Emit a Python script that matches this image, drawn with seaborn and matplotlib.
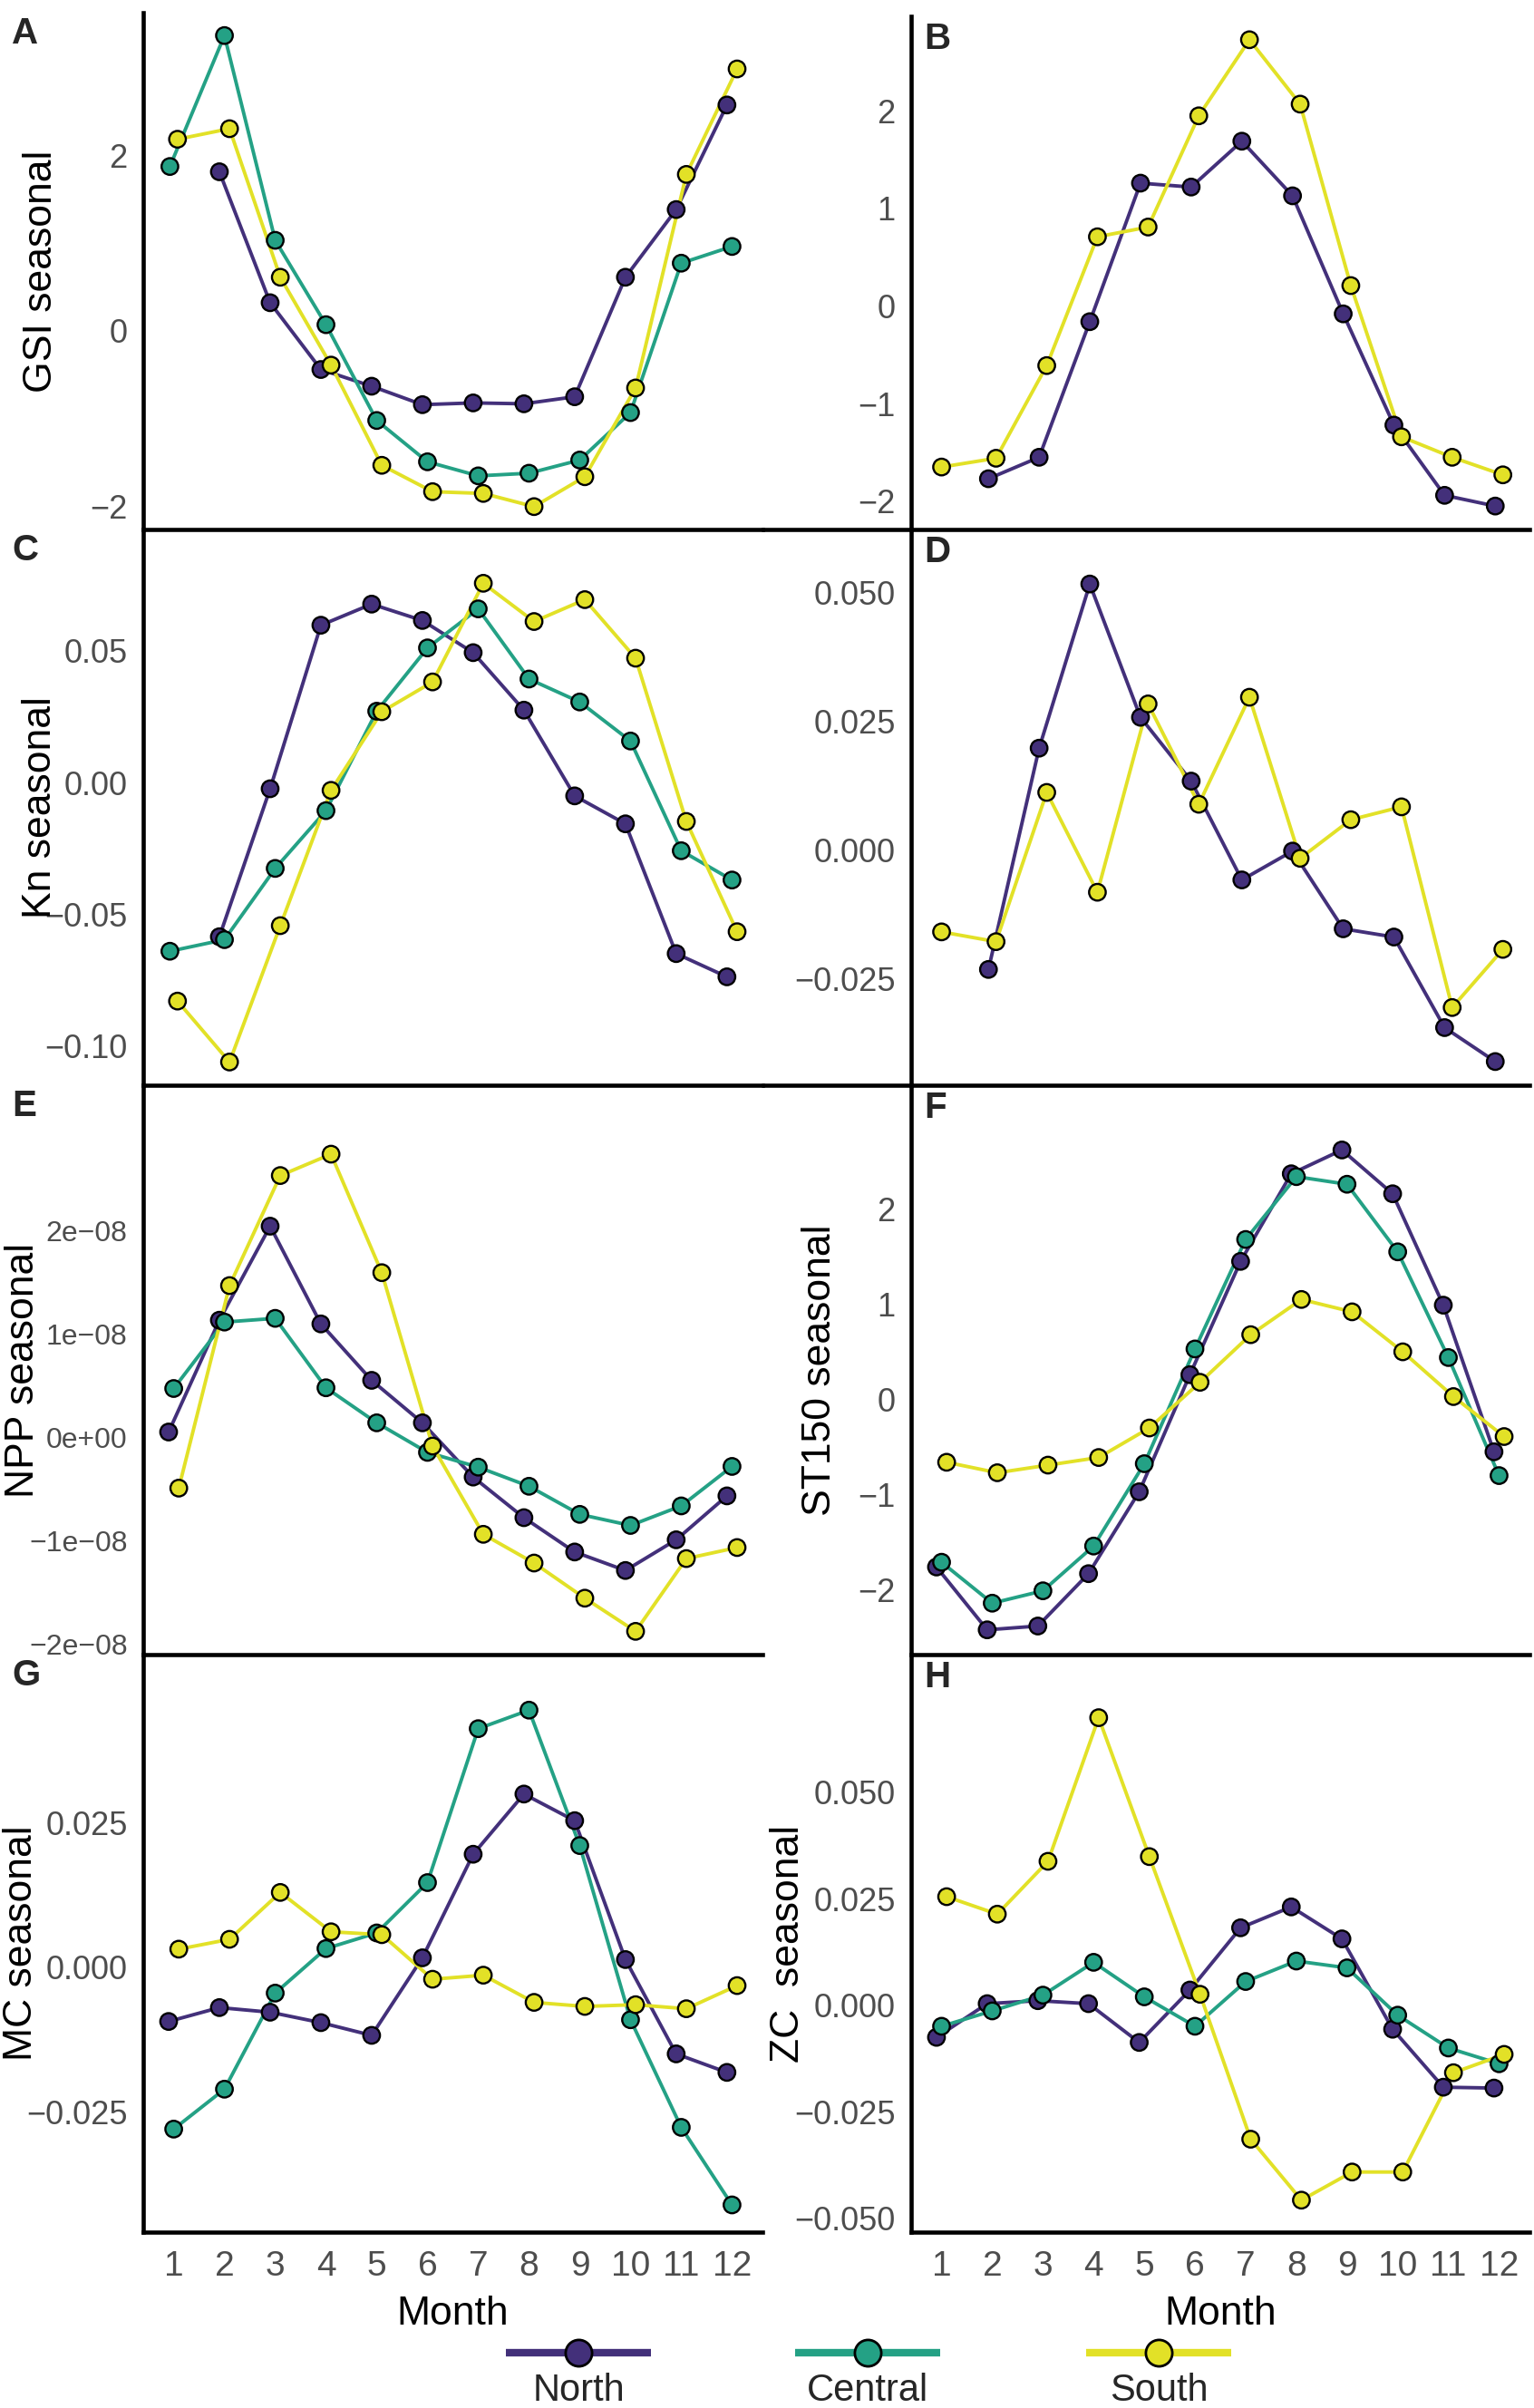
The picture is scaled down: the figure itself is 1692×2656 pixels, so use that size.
import numpy as np
import pandas as pd
import matplotlib
matplotlib.use("Agg")
import matplotlib.pyplot as plt
from matplotlib.lines import Line2D
import seaborn as sns

NA = np.nan
months = list(range(1, 13))
regions = ["North", "Central", "South"]
region_colors = ["#43307A", "#24A185", "#E2E127"]

# A: GSI seasonal
a_north = [NA, 1.81, 0.32, -0.44, -0.63, -0.84, -0.82, -0.83, -0.75, 0.61, 1.38, 2.57]
a_central = [1.87, 3.36, 1.03, 0.07, -1.02, -1.49, -1.65, -1.62, -1.47, -0.93, 0.77, 0.96]
a_south = [2.18, 2.30, 0.61, -0.39, -1.53, -1.83, -1.85, -2.00, -1.66, -0.65, 1.78, 2.98]
# B
b_north = [NA, -1.77, -1.55, -0.16, 1.26, 1.22, 1.69, 1.13, -0.08, -1.22, -1.94, -2.05]
b_central = [NA] * 12
b_south = [-1.65, -1.56, -0.61, 0.71, 0.81, 1.95, 2.73, 2.07, 0.21, -1.34, -1.55, -1.73]
# C: Kn seasonal
c_north = [NA, -0.0585, -0.0024, 0.0596, 0.0676, 0.0614, 0.0492, 0.0274, -0.0051, -0.0157, -0.0649, -0.0737]
c_central = [-0.0640, -0.0596, -0.0326, -0.0107, 0.0270, 0.0510, 0.0658, 0.0392, 0.0305, 0.0157, -0.0259, -0.0370]
c_south = [-0.0829, -0.1060, -0.0543, -0.0030, 0.0268, 0.0381, 0.0755, 0.0610, 0.0693, 0.0471, -0.0148, -0.0566]
# D
d_north = [NA, -0.0232, 0.0198, 0.0517, 0.0258, 0.0134, -0.0058, -0.0002, -0.0153, -0.0169, -0.0345, -0.0411]
d_central = [NA] * 12
d_south = [-0.0159, -0.0178, 0.0112, -0.0082, 0.0284, 0.0089, 0.0297, -0.0016, 0.0059, 0.0084, -0.0306, -0.0193]
# E: NPP seasonal
e_north = [0.054e-08, 1.136e-08, 2.046e-08, 1.100e-08, 0.554e-08, 0.143e-08,
           -0.382e-08, -0.775e-08, -1.107e-08, -1.286e-08, -0.989e-08, -0.564e-08]
e_central = [0.475e-08, 1.118e-08, 1.154e-08, 0.482e-08, 0.143e-08, -0.143e-08,
             -0.286e-08, -0.471e-08, -0.743e-08, -0.850e-08, -0.661e-08, -0.279e-08]
e_south = [-0.489e-08, 1.471e-08, 2.536e-08, 2.743e-08, 1.596e-08, -0.082e-08,
           -0.936e-08, -1.214e-08, -1.554e-08, -1.875e-08, -1.171e-08, -1.064e-08]
# F: ST150 seasonal
f_north = [-1.76, -2.42, -2.38, -1.83, -0.97, 0.26, 1.45, 2.37, 2.62, 2.16, 0.99, -0.55]
f_central = [-1.71, -2.14, -2.01, -1.54, -0.675, 0.53, 1.68, 2.34, 2.26, 1.55, 0.44, -0.80]
f_south = [-0.66, -0.77, -0.69, -0.61, -0.30, 0.18, 0.68, 1.05, 0.92, 0.50, 0.03, -0.39]
# G: MC seasonal
g_north = [-0.0094, -0.0070, -0.0078, -0.0096, -0.0118, 0.0016, 0.0195, 0.0299, 0.0253, 0.0013, -0.0150, -0.0182]
g_central = [-0.0280, -0.0211, -0.0045, 0.0032, 0.0059, 0.0146, 0.0412, 0.0444, 0.0210, -0.0091, -0.0277, -0.0411]
g_south = [0.0031, 0.0048, 0.0129, 0.0061, 0.0056, -0.0021, -0.0014, -0.0061, -0.0068, -0.0065, -0.0072, -0.0032]
# H: ZC seasonal
h_north = [-0.0075, 0.0004, 0.0011, 0.0004, -0.0087, 0.0036, 0.0182, 0.0231, 0.0156, -0.0056, -0.0192, -0.0194]
h_central = [-0.0049, -0.0013, 0.0024, 0.0101, 0.0020, -0.0049, 0.0056, 0.0104, 0.0088, -0.0023, -0.0100, -0.0137]
h_south = [0.0255, 0.0214, 0.0338, 0.0675, 0.0349, 0.0026, -0.0314, -0.0457, -0.0391, -0.0391, -0.0158, -0.0115]

M = "\u2212"
panels = [
    # letter, series, ylim, yticks, yticklabels, ylabel, ylabel x (axes frac), row, col
    ("A", (a_north, a_central, a_south), (-2.26, 3.62), [-2, 0, 2], [M + "2", "0", "2"],
     "GSI seasonal", -0.135, 0, 0),
    ("B", (b_north, b_central, b_south), (-2.29, 2.97), [-2, -1, 0, 1, 2],
     [M + "2", M + "1", "0", "1", "2"], "", 0, 0, 1),
    ("C", (c_north, c_central, c_south), (-0.1148, 0.0959), [-0.10, -0.05, 0.0, 0.05],
     [M + "0.10", M + "0.05", "0.00", "0.05"], "Kn seasonal", -0.136, 1, 0),
    ("D", (d_north, d_central, d_south), (-0.0457, 0.0623), [-0.025, 0.0, 0.025, 0.05],
     [M + "0.025", "0.000", "0.025", "0.050"], "", 0, 1, 1),
    ("E", (e_north, e_central, e_south), (-2.10e-08, 3.41e-08), [-2e-08, -1e-08, 0, 1e-08, 2e-08],
     [M + "2e" + M + "08", M + "1e" + M + "08", "0e+00", "1e" + M + "08", "2e" + M + "08"],
     "NPP seasonal", -0.164, 2, 0),
    ("F", (f_north, f_central, f_south), (-2.68, 3.30), [-2, -1, 0, 1, 2],
     [M + "2", M + "1", "0", "1", "2"], "ST150 seasonal", -0.117, 2, 1),
    ("G", (g_north, g_central, g_south), (-0.0458, 0.0540), [-0.025, 0.0, 0.025],
     [M + "0.025", "0.000", "0.025"], "MC seasonal", -0.167, 3, 0),
    ("H", (h_north, h_central, h_south), (-0.0532, 0.0823), [-0.05, -0.025, 0.0, 0.025, 0.05],
     [M + "0.050", M + "0.025", "0.000", "0.025", "0.050"], "ZC  seasonal", -0.169, 3, 1),
]


def dodge(df, width=0.3):
    df = df.dropna(subset=["value"]).copy()
    rank = {r: i for i, r in enumerate(regions)}
    df["rank"] = df["region"].map(rank)
    df["x"] = df["month"].astype(float)
    for m, grp in df.groupby("month"):
        n = len(grp)
        for i, idx in enumerate(grp.sort_values("rank").index):
            df.loc[idx, "x"] = m + (i - (n - 1) / 2) * width / n
    return df


sns.set_style("white")
plt.rcParams["font.family"] = ["Liberation Sans", "DejaVu Sans"]

W, H = 1692, 2656
fig = plt.figure(figsize=(W / 100, H / 100), dpi=100)

rows_px = [(14, 584), (584, 1197), (1197, 1825), (1825, 2462)]
cols_px = [(158, 841), (1005, 1687)]
palette = dict(zip(regions, region_colors))

for letter, series, ylim, yticks, ylabs, ylabel, lab_x, r, c in panels:
    top, bot = rows_px[r]
    if letter == "B":
        top = 18
    left, right = cols_px[c]
    ax = fig.add_axes([left / W, 1 - bot / H, (right - left) / W, (bot - top) / H])
    ax.patch.set_visible(False)

    df = pd.DataFrame({
        "month": months * 3,
        "region": [reg for reg in regions for _ in months],
        "value": list(series[0]) + list(series[1]) + list(series[2]),
    })
    df = dodge(df)
    present = [reg for reg in regions if reg in set(df["region"])]

    sns.lineplot(data=df, x="x", y="value", hue="region", hue_order=present,
                 palette=palette, estimator=None, linewidth=2.8, legend=False, ax=ax)
    sns.scatterplot(data=df, x="x", y="value", hue="region", hue_order=present,
                    palette=palette, s=175, edgecolor="black", linewidth=1.7,
                    legend=False, ax=ax, zorder=3)

    ax.set_xlim(0.4, 12.6)
    ax.set_ylim(*ylim)
    ax.set_xticks(months)
    ax.set_yticks(yticks)
    ax.set_yticklabels(ylabs)
    for s in ["top", "right"]:
        ax.spines[s].set_visible(False)
    for s in ["left", "bottom"]:
        ax.spines[s].set_linewidth(3.3)
        ax.spines[s].set_color("black")
    ax.tick_params(axis="both", direction="out", length=8.5, width=2.2,
                   color="#333333", labelcolor="#4D4D4D", labelsize=26, pad=4)
    if letter == "E":
        ax.tick_params(axis="y", labelsize=23)
    if r == 3:
        ax.tick_params(axis="x", labelsize=28, pad=6)
        ax.set_xlabel("Month", fontsize=32, color="black", labelpad=10)
    else:
        ax.tick_params(axis="x", labelbottom=False)
        ax.set_xlabel("")
    ax.set_ylabel(ylabel, fontsize=32, color="black")
    if ylabel:
        ax.yaxis.set_label_coords(lab_x, 0.5)

    if c == 0:
        fig.text(13 / W, 1 - (top + 4) / H, letter, fontsize=29, fontweight="bold",
                 ha="left", va="top")
    else:
        fig.text(1019 / W, 1 - (top + 6) / H, letter, fontsize=29, fontweight="bold",
                 ha="left", va="top")

# row boundary lines continue across the gap between columns (rows 1 and 2)
for y in [584, 1197]:
    fig.add_artist(Line2D([841 / W, 1005 / W], [1 - y / H, 1 - y / H],
                          transform=fig.transFigure, color="black", lw=3.3))

# legend: line with point, label underneath
legend_cx = [638, 957, 1278]
ly = 1 - 2595 / H
for name, color, cx in zip(regions, region_colors, legend_cx):
    fig.add_artist(Line2D([(cx - 80) / W, (cx + 80) / W], [ly, ly],
                          transform=fig.transFigure, color=color, lw=6,
                          solid_capstyle="butt"))
    fig.add_artist(Line2D([cx / W], [ly], transform=fig.transFigure, marker="o",
                          markersize=21, markerfacecolor=color, markeredgecolor="black",
                          markeredgewidth=2, linestyle="none"))
    fig.text(cx / W, 1 - 2637 / H, name, fontsize=30, ha="center", va="center")

fig.savefig("out.png", dpi=100)
